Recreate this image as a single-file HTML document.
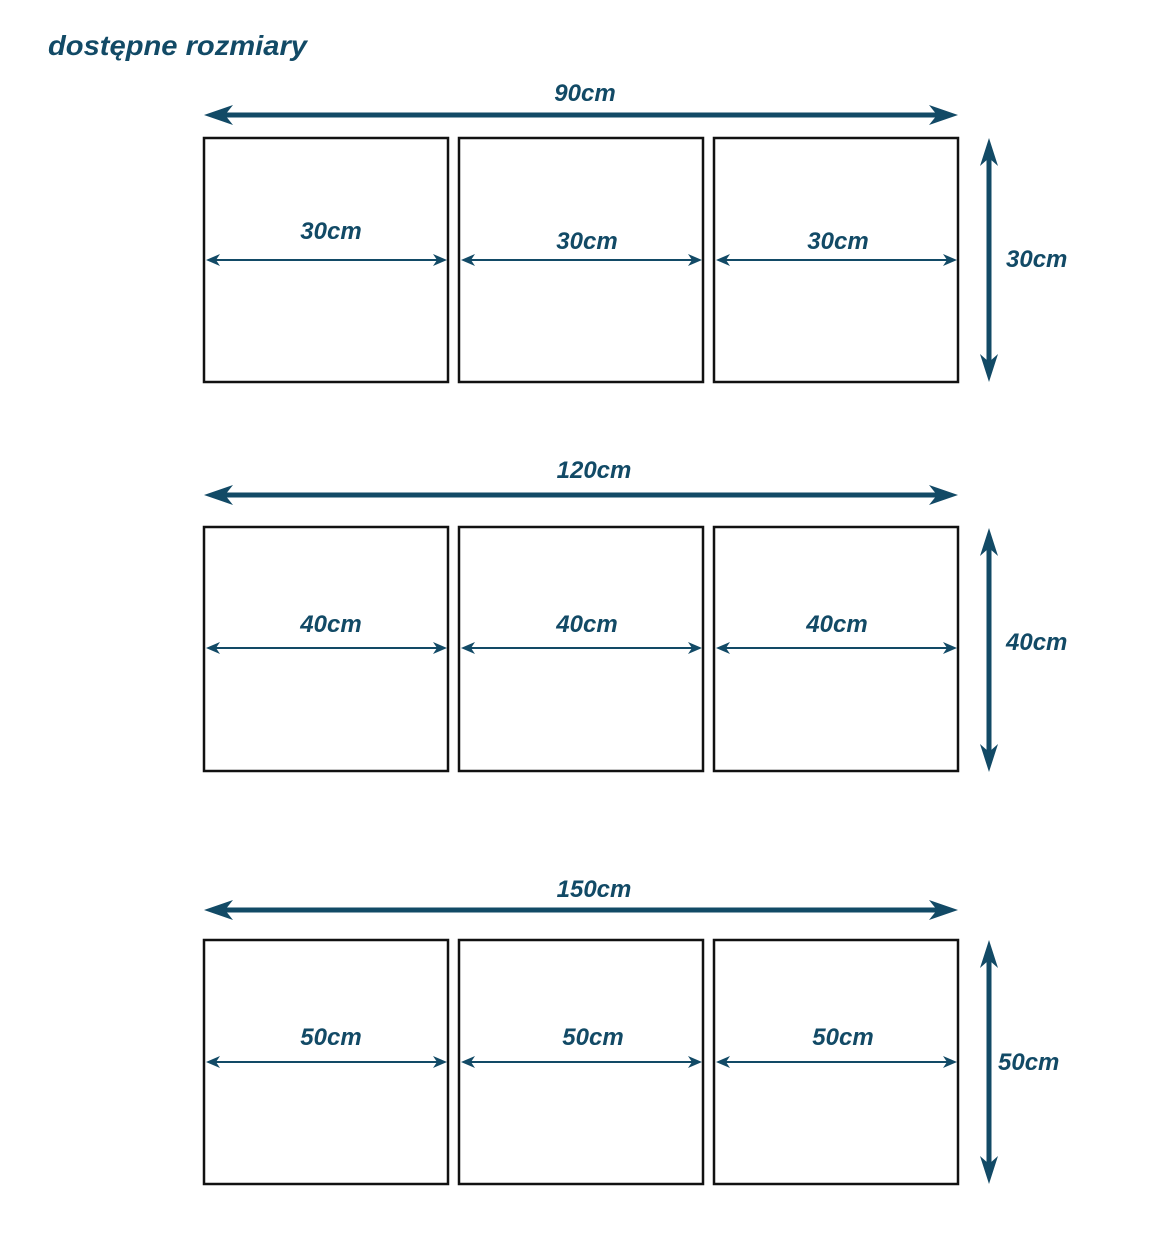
<!DOCTYPE html>
<html><head><meta charset="utf-8"><style>
html,body{margin:0;padding:0;background:#fff}
svg text{font-family:"Liberation Sans",sans-serif;font-style:italic;font-weight:bold;fill:#124a66}
</style></head><body>
<svg width="1150" height="1241" viewBox="0 0 1150 1241" xmlns="http://www.w3.org/2000/svg">
<text x="48" y="55" font-size="28" textLength="259" lengthAdjust="spacingAndGlyphs">dostępne rozmiary</text>
<g fill="none" stroke="#111" stroke-width="2.5">
<rect x="204" y="138" width="244" height="244"/><rect x="459" y="138" width="244" height="244"/><rect x="714" y="138" width="244" height="244"/>
<rect x="204" y="527" width="244" height="244"/><rect x="459" y="527" width="244" height="244"/><rect x="714" y="527" width="244" height="244"/>
<rect x="204" y="940" width="244" height="244"/><rect x="459" y="940" width="244" height="244"/><rect x="714" y="940" width="244" height="244"/>
</g>
<g stroke="#124a66" fill="none">
<line x1="215" y1="115" x2="948" y2="115" stroke-width="5"/>
<line x1="215" y1="495" x2="948" y2="495" stroke-width="5"/>
<line x1="215" y1="910" x2="948" y2="910" stroke-width="5"/>
<line x1="989" y1="150" x2="989" y2="370" stroke-width="5"/>
<line x1="989" y1="540" x2="989" y2="760" stroke-width="5"/>
<line x1="989" y1="952" x2="989" y2="1172" stroke-width="5"/>
<line x1="210" y1="260" x2="444" y2="260" stroke-width="2"/><line x1="465" y1="260" x2="699" y2="260" stroke-width="2"/><line x1="720" y1="260" x2="954" y2="260" stroke-width="2"/>
<line x1="210" y1="648" x2="444" y2="648" stroke-width="2"/><line x1="465" y1="648" x2="699" y2="648" stroke-width="2"/><line x1="720" y1="648" x2="954" y2="648" stroke-width="2"/>
<line x1="210" y1="1062" x2="444" y2="1062" stroke-width="2"/><line x1="465" y1="1062" x2="699" y2="1062" stroke-width="2"/><line x1="720" y1="1062" x2="954" y2="1062" stroke-width="2"/>
</g>
<g fill="#124a66">
<path d="M204,115 L233,105 L225,115 L233,125 Z"/><path d="M958,115 L929,105 L937,115 L929,125 Z"/>
<path d="M204,495 L233,485 L225,495 L233,505 Z"/><path d="M958,495 L929,485 L937,495 L929,505 Z"/>
<path d="M204,910 L233,900 L225,910 L233,920 Z"/><path d="M958,910 L929,900 L937,910 L929,920 Z"/>
<path d="M989,138 L980,166 L989,158 L998,166 Z"/><path d="M989,382 L980,354 L989,362 L998,354 Z"/>
<path d="M989,528 L980,556 L989,548 L998,556 Z"/><path d="M989,772 L980,744 L989,752 L998,744 Z"/>
<path d="M989,940 L980,968 L989,960 L998,968 Z"/><path d="M989,1184 L980,1156 L989,1164 L998,1156 Z"/>
</g>
<g fill="#124a66" id="sa">
<path d="M206,260 L220,254 L216,260 L220,266 Z"/><path d="M447,260 L433,254 L437,260 L433,266 Z"/>
<path d="M461,260 L475,254 L471,260 L475,266 Z"/><path d="M702,260 L688,254 L692,260 L688,266 Z"/>
<path d="M716,260 L730,254 L726,260 L730,266 Z"/><path d="M957,260 L943,254 L947,260 L943,266 Z"/>
<path d="M206,648 L220,642 L216,648 L220,654 Z"/><path d="M447,648 L433,642 L437,648 L433,654 Z"/>
<path d="M461,648 L475,642 L471,648 L475,654 Z"/><path d="M702,648 L688,642 L692,648 L688,654 Z"/>
<path d="M716,648 L730,642 L726,648 L730,654 Z"/><path d="M957,648 L943,642 L947,648 L943,654 Z"/>
<path d="M206,1062 L220,1056 L216,1062 L220,1068 Z"/><path d="M447,1062 L433,1056 L437,1062 L433,1068 Z"/>
<path d="M461,1062 L475,1056 L471,1062 L475,1068 Z"/><path d="M702,1062 L688,1056 L692,1062 L688,1068 Z"/>
<path d="M716,1062 L730,1056 L726,1062 L730,1068 Z"/><path d="M957,1062 L943,1056 L947,1062 L943,1068 Z"/>
</g>
<g font-size="24" text-anchor="middle">
<text x="585" y="101">90cm</text>
<text x="331" y="239">30cm</text><text x="587" y="249">30cm</text><text x="838" y="249">30cm</text>
<text x="594" y="478">120cm</text>
<text x="331" y="632">40cm</text><text x="587" y="632">40cm</text><text x="837" y="632">40cm</text>
<text x="594" y="897">150cm</text>
<text x="331" y="1045">50cm</text><text x="593" y="1045">50cm</text><text x="843" y="1045">50cm</text>
</g>
<g font-size="24">
<text x="1006" y="267">30cm</text>
<text x="1006" y="650">40cm</text>
<text x="998" y="1070">50cm</text>
</g>
</svg>
</body></html>
